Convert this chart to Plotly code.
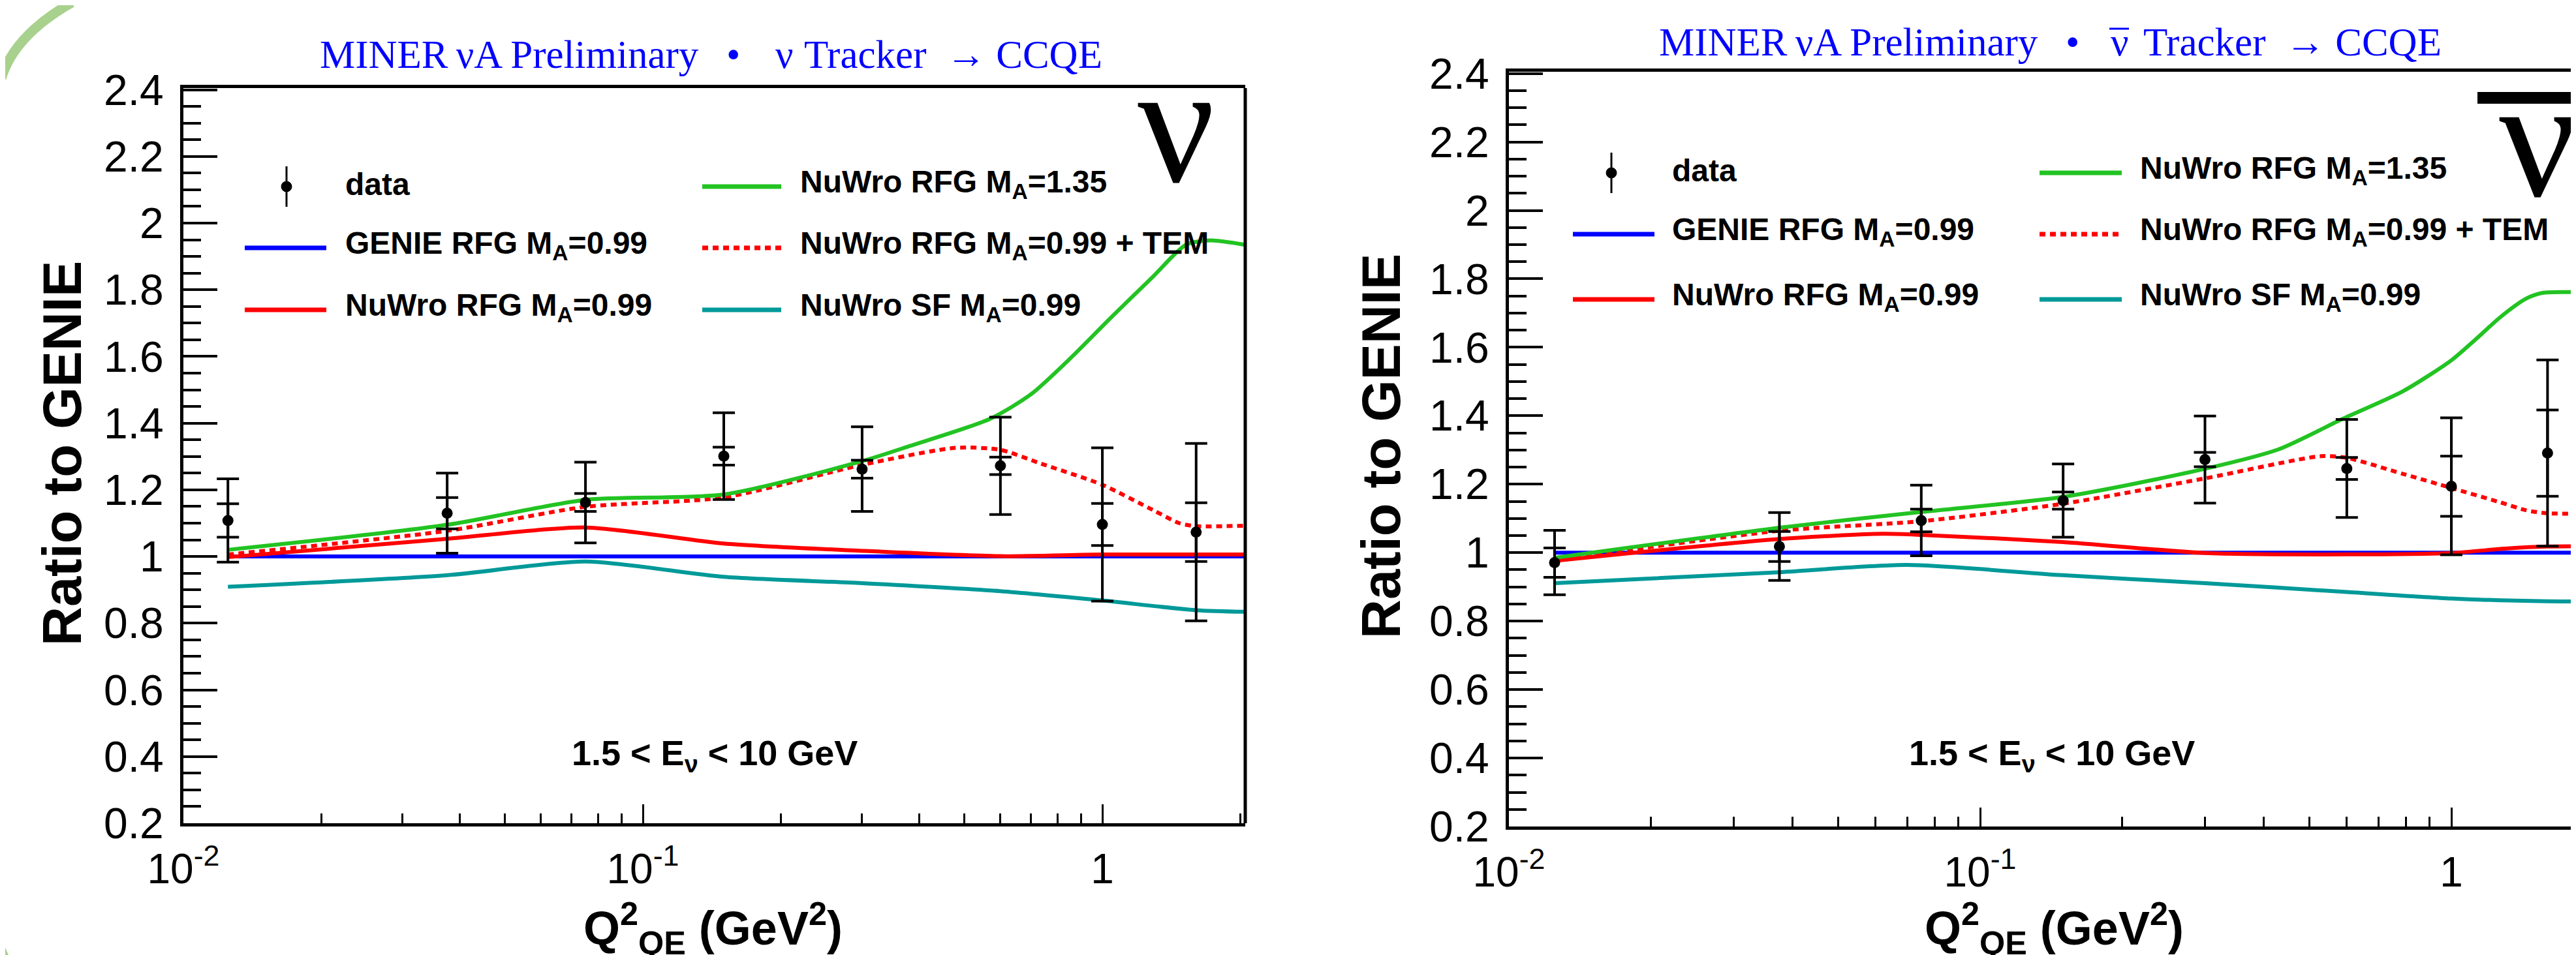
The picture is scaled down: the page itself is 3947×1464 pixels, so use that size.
import plotly.graph_objects as go

W, H = 3947, 1464

# ---------------- data ----------------
q2_centers = [0.0125, 0.0375, 0.075, 0.15, 0.3, 0.6, 1.0, 1.6]

# neutrino panel (left)
nu_ratio = [1.108, 1.130, 1.162, 1.301, 1.262, 1.272, 1.096, 1.073]
nu_stat = [0.050, 0.047, 0.027, 0.027, 0.027, 0.026, 0.063, 0.088]
nu_total = [0.125, 0.120, 0.121, 0.130, 0.127, 0.146, 0.230, 0.266]

# antineutrino panel (right)
nubar_ratio = [0.971, 1.018, 1.094, 1.152, 1.272, 1.246, 1.194, 1.291]
nubar_stat = [0.043, 0.044, 0.033, 0.025, 0.021, 0.032, 0.088, 0.126]
nubar_total = [0.094, 0.099, 0.103, 0.107, 0.127, 0.143, 0.200, 0.272]

# model curves, neutrino
nu_genie_x = [0.0125, 2.1]
nu_genie_y = [1.0, 1.0]
nu_rfg_x = [0.0125, 0.0375, 0.075, 0.15, 0.3, 0.6, 1.0, 2.1]
nu_rfg_y = [0.998, 1.053, 1.087, 1.039, 1.017, 1.001, 1.006, 1.006]
nu_ma135_x = [0.0125, 0.0375, 0.075, 0.15, 0.30, 0.38, 0.57, 0.70, 0.86, 1.05, 1.29, 1.52, 1.72, 2.1]
nu_ma135_y = [1.020, 1.095, 1.170, 1.186, 1.286, 1.331, 1.413, 1.487, 1.600, 1.720, 1.840, 1.935, 1.948, 1.932]
nu_tem_x = [0.0125, 0.0375, 0.075, 0.15, 0.3, 0.48, 0.6, 0.73, 1.0, 1.29, 1.47, 1.6, 2.1]
nu_tem_y = [1.006, 1.077, 1.149, 1.177, 1.275, 1.326, 1.320, 1.280, 1.215, 1.139, 1.100, 1.091, 1.093]
nu_sf_x = [0.0125, 0.0375, 0.075, 0.15, 0.3, 0.6, 1.0, 1.6, 2.1]
nu_sf_y = [0.909, 0.944, 0.985, 0.939, 0.920, 0.896, 0.868, 0.839, 0.834]

# model curves, antineutrino
nb_genie_x = [0.0125, 2.1]
nb_genie_y = [1.0, 1.0]
nb_rfg_x = [0.0125, 0.0375, 0.062, 0.075, 0.15, 0.3, 0.6, 1.0, 1.3, 1.6, 2.1]
nb_rfg_y = [0.976, 1.040, 1.055, 1.052, 1.031, 0.999, 0.995, 0.999, 1.012, 1.018, 1.018]
nb_ma135_x = [0.0125, 0.0375, 0.075, 0.15, 0.30, 0.43, 0.59, 0.79, 1.0, 1.13, 1.27, 1.44, 1.56, 2.1]
nb_ma135_y = [0.985, 1.073, 1.119, 1.163, 1.245, 1.302, 1.392, 1.472, 1.562, 1.625, 1.688, 1.742, 1.759, 1.759]
nb_tem_x = [0.0125, 0.0375, 0.075, 0.15, 0.3, 0.53, 0.6, 0.79, 1.0, 1.27, 1.44, 1.6, 2.1]
nb_tem_y = [0.978, 1.064, 1.092, 1.143, 1.217, 1.282, 1.277, 1.230, 1.189, 1.147, 1.124, 1.115, 1.115]
nb_sf_x = [0.0125, 0.0375, 0.070, 0.15, 0.3, 0.6, 1.0, 1.6, 2.1]
nb_sf_y = [0.911, 0.943, 0.964, 0.934, 0.911, 0.885, 0.866, 0.858, 0.858]

legend_labels = ["data",
                 "NuWro RFG M<sub>A</sub>=1.35",
                 "GENIE RFG M<sub>A</sub>=0.99",
                 "NuWro RFG M<sub>A</sub>=0.99 + TEM",
                 "NuWro RFG M<sub>A</sub>=0.99",
                 "NuWro SF M<sub>A</sub>=0.99"]

y_tickvals = [0.2, 0.4, 0.6, 0.8, 1.0, 1.2, 1.4, 1.6, 1.8, 2.0, 2.2, 2.4]
y_ticktext = ["0.2", "0.4", "0.6", "0.8", "1", "1.2", "1.4", "1.6", "1.8", "2", "2.2", "2.4"]
x_tickvals = [0.01, 0.1, 1]
x_ticktext = ["10<sup>-2</sup>", "10<sup>-1</sup>", "1"]
x_minor = [0.02, 0.03, 0.04, 0.05, 0.06, 0.07, 0.08, 0.09,
           0.2, 0.3, 0.4, 0.5, 0.6, 0.7, 0.8, 0.9, 2]

# ---------------- style ----------------
C_BLUE = "#0000ff"
C_RED = "#ff0000"
C_GREEN = "#22c322"
C_TEAL = "#009999"
C_ARC = "#a9d18e"
SANS = "Liberation Sans, Arial, Helvetica, sans-serif"
SERIF = "Liberation Serif, Times New Roman, serif"


def px(x):
    return x / W


def py(y):
    return 1 - y / H


fig = go.Figure()


def add_panel(xa, ya, curves, ratio, stat, total):
    for (cx, cy, col, dash) in curves:
        fig.add_trace(go.Scatter(
            x=cx, y=cy, mode="lines", xaxis=xa, yaxis=ya,
            line=dict(color=col, width=6, dash=dash, shape="spline", smoothing=0.7),
            showlegend=False, hoverinfo="skip"))
    fig.add_trace(go.Scatter(
        x=q2_centers, y=ratio, mode="markers", xaxis=xa, yaxis=ya,
        marker=dict(color="rgba(0,0,0,0)", size=1),
        error_y=dict(type="data", array=total, color="black", thickness=4, width=17),
        showlegend=False))
    fig.add_trace(go.Scatter(
        x=q2_centers, y=ratio, mode="markers", xaxis=xa, yaxis=ya,
        marker=dict(color="black", size=17, symbol="circle"),
        error_y=dict(type="data", array=stat, color="black", thickness=4, width=17),
        showlegend=False))


DASH = "9px,7px"
add_panel("x", "y", [
    (nu_genie_x, nu_genie_y, C_BLUE, "solid"),
    (nu_sf_x, nu_sf_y, C_TEAL, "solid"),
    (nu_rfg_x, nu_rfg_y, C_RED, "solid"),
    (nu_tem_x, nu_tem_y, C_RED, DASH),
    (nu_ma135_x, nu_ma135_y, C_GREEN, "solid"),
], nu_ratio, nu_stat, nu_total)

add_panel("x2", "y2", [
    (nb_genie_x, nb_genie_y, C_BLUE, "solid"),
    (nb_sf_x, nb_sf_y, C_TEAL, "solid"),
    (nb_rfg_x, nb_rfg_y, C_RED, "solid"),
    (nb_tem_x, nb_tem_y, C_RED, DASH),
    (nb_ma135_x, nb_ma135_y, C_GREEN, "solid"),
], nubar_ratio, nubar_stat, nubar_total)


def xaxis_cfg(domain, rng):
    return dict(
        type="log", domain=domain, range=rng, showline=True, linecolor="black",
        linewidth=5, mirror=True, ticks="inside", ticklen=29, tickwidth=3,
        tickcolor="black", tickvals=x_tickvals, ticktext=x_ticktext,
        tickfont=dict(family=SANS, size=64, color="black"),
        ticklabelstandoff=10, showgrid=False, zeroline=False, automargin=False,
        minor=dict(tickmode="array", tickvals=x_minor, ticks="inside",
                   ticklen=15, tickwidth=3, tickcolor="black", showgrid=False))


def yaxis_cfg(domain, anchor, mirror):
    return dict(
        domain=domain, range=[0.2, 2.405], anchor=anchor, showline=True,
        linecolor="black", linewidth=5, mirror=mirror, ticks="inside",
        ticklen=52, tickwidth=4, tickcolor="black",
        tickvals=y_tickvals, ticktext=y_ticktext,
        tickfont=dict(family=SANS, size=66, color="black"),
        ticklabelstandoff=12, showgrid=False, zeroline=False, automargin=False,
        minor=dict(dtick=0.05, tick0=0.2, ticks="inside", ticklen=27,
                   tickwidth=4, tickcolor="black", showgrid=False))


L_X0, L_X1 = 273, 1900
R_X0 = 2304
fig.update_layout(
    xaxis=dict(**xaxis_cfg([px(L_X0), px(L_X1)], [-2, 0.311]), anchor="y"),
    yaxis=yaxis_cfg([py(1254), py(127)], "x", False),
    xaxis2=dict(**xaxis_cfg([px(R_X0), 1.0], [-2, 0.2756]), anchor="y2"),
    yaxis2=yaxis_cfg([py(1259), py(102)], "x2", False),
)

shapes = []
annots = []

# right frame line for left panel only (right panel frame is cut off)
shapes.append(dict(type="line", xref="paper", yref="paper",
                   x0=px(L_X1), x1=px(L_X1), y0=py(1254), y1=py(127),
                   line=dict(color="black", width=5)))


def add_legend(col_lines, col_text, rows, marker_x):
    colors = [None, C_GREEN, C_BLUE, C_RED, C_RED, C_TEAL]
    dashes = [None, "solid", "solid", "dot", "solid", "solid"]
    for i, lab in enumerate(legend_labels):
        col = i % 2
        row = i // 2
        yc = rows[row]
        x0, x1 = col_lines[col]
        if i == 0:
            shapes.append(dict(type="line", xref="paper", yref="paper",
                               x0=px(marker_x), x1=px(marker_x),
                               y0=py(yc - 31), y1=py(yc + 31),
                               line=dict(color="black", width=3)))
            shapes.append(dict(type="circle", xref="paper", yref="paper",
                               x0=px(marker_x - 8), x1=px(marker_x + 8),
                               y0=py(yc - 8), y1=py(yc + 8),
                               fillcolor="black", line=dict(color="black", width=1)))
        else:
            shapes.append(dict(type="line", xref="paper", yref="paper",
                               x0=px(x0), x1=px(x1), y0=py(yc), y1=py(yc),
                               line=dict(color=colors[i], width=7,
                                         dash=DASH if dashes[i] == "dot" else "solid")))
        annots.append(dict(xref="paper", yref="paper", x=px(col_text[col]),
                           y=py(yc - 4), xanchor="left", yanchor="middle",
                           text=lab, showarrow=False,
                           font=dict(family=SANS, size=48, color="black", weight="bold")))


add_legend([(367, 492), (1068, 1189)], [519, 1216], [278, 372, 467], 431)
add_legend([(2402, 2527), (3117, 3243)], [2552, 3269], [257, 351, 451], 2461)

# titles: pieces placed so the gaps follow the original
TFONT = dict(family=SERIF, size=61, color=C_BLUE)


def add_title(x_bullet_right, x_nu_center, x_rest_left, yc, bar):
    annots.append(dict(xref="paper", yref="paper", x=px(x_bullet_right), y=py(yc),
                       xanchor="right", yanchor="middle", showarrow=False,
                       text="MINER\u2009\u03bdA Preliminary\u2002\u2009\u2022",
                       font=TFONT))
    annots.append(dict(xref="paper", yref="paper", x=px(x_nu_center), y=py(yc),
                       xanchor="center", yanchor="middle", showarrow=False,
                       text="\u03bd", font=TFONT))
    annots.append(dict(xref="paper", yref="paper", x=px(x_rest_left), y=py(yc),
                       xanchor="left", yanchor="middle", showarrow=False,
                       text="Tracker\u2002\u2192 CCQE", font=TFONT))
    if bar:
        shapes.append(dict(type="line", xref="paper", yref="paper",
                           x0=px(x_nu_center - 16), x1=px(x_nu_center + 14),
                           y0=py(yc - 21), y1=py(yc - 21),
                           line=dict(color=C_BLUE, width=3)))


add_title(1128, 1194, 1222, 76, False)
add_title(3180, 3240, 3274, 57, True)

# big nu symbols
annots.append(dict(xref="paper", yref="paper", x=px(1794), y=py(329),
                   xanchor="center", yanchor="bottom", showarrow=False,
                   text="\u03bd", font=dict(family=SERIF, size=262, color="black")))
annots.append(dict(xref="paper", yref="paper", x=px(3880), y=py(351),
                   xanchor="center", yanchor="bottom", showarrow=False,
                   text="\u03bd", font=dict(family=SERIF, size=262, color="black")))
shapes.append(dict(type="rect", xref="paper", yref="paper",
                   x0=px(3788), x1=px(3960), y0=py(151), y1=py(133),
                   fillcolor="black", line=dict(width=0)))

# energy range labels
for xc in (1087, 3136):
    annots.append(dict(xref="paper", yref="paper", x=px(xc), y=py(1150),
                       xanchor="center", yanchor="middle", showarrow=False,
                       text="1.5 < E<sub>\u03bd</sub> < 10 GeV",
                       font=dict(family=SANS, size=54, color="black", weight="bold")))

# axis titles
for (xc, yc) in ((88, 687), (2109, 676)):
    annots.append(dict(xref="paper", yref="paper", x=px(xc), y=py(yc),
                       xanchor="center", yanchor="middle", showarrow=False,
                       textangle=-90, text="Ratio to GENIE",
                       font=dict(family=SANS, size=83, color="black", weight="bold")))
for xc in (1084, 3139):
    annots.append(dict(xref="paper", yref="paper", x=px(xc), y=py(1362),
                       xanchor="center", yanchor="top", showarrow=False,
                       text="Q<sup>2</sup><sub>QE</sub> (GeV<sup>2</sup>)",
                       font=dict(family=SANS, size=72, color="black", weight="bold")))

# slide decoration: green arcs at the left edge
shapes.append(dict(type="path", xref="paper", yref="paper",
                   path=f"M {px(-6)} {py(112)} Q {px(14)} {py(46)} {px(102)} {py(-4)}",
                   line=dict(color=C_ARC, width=15)))
shapes.append(dict(type="path", xref="paper", yref="paper",
                   path=f"M {px(-6)} {py(1440)} Q {px(0)} {py(1455)} {px(8)} {py(1472)}",
                   line=dict(color=C_ARC, width=8)))

fig.update_layout(
    width=W, height=H, template="none",
    margin=dict(l=0, r=0, t=0, b=0, pad=0),
    paper_bgcolor="white", plot_bgcolor="white",
    showlegend=False, shapes=shapes, annotations=annots,
)

fig.write_html("out.html")
